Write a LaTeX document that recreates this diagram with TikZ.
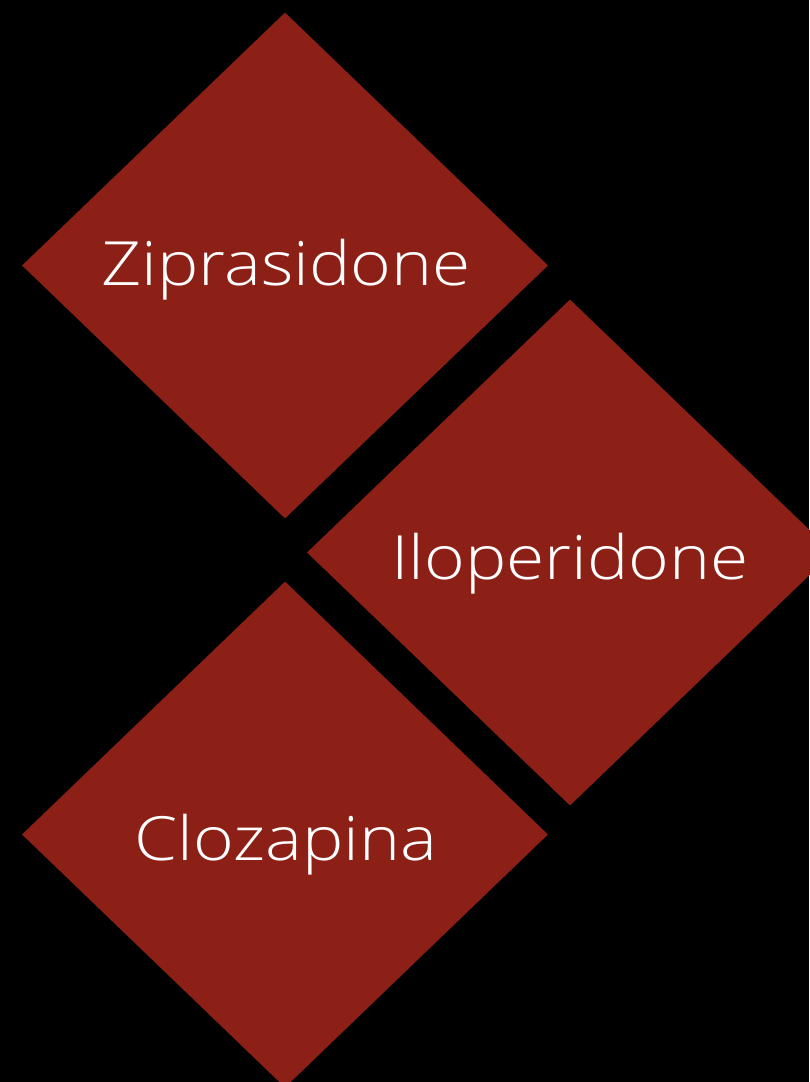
\documentclass[tikz,border=0pt]{standalone}
\usepackage{fontspec}
\setmainfont[FakeStretch=1.14]{Open Sans Light}
\usetikzlibrary{shapes.geometric}
\definecolor{diared}{HTML}{8C2016}
\begin{document}
\begin{tikzpicture}[x=1pt,y=-1pt,
  dia/.style={diamond,fill=diared,inner sep=0pt,minimum width=526pt,minimum height=506pt},
  lbl/.style={text=white,font=\fontsize{61}{61}\selectfont,anchor=base,inner sep=0pt}]
\fill[black] (0,0) rectangle (809,1082);
\useasboundingbox (0,0) rectangle (809,1082);
\node[dia] (zip) at (285,265.5) {};
\node[dia] (ilo) at (570,552.5) {};
\node[dia] (clo) at (285,834.5) {};
\node[lbl] (ziptxt) at (286,285) {Ziprasidone};
\node[lbl] (ilotxt) at (570,579) {Iloperidone};
\node[lbl] (clotxt) at (286,860) {Clozapina};
\end{tikzpicture}
\end{document}
